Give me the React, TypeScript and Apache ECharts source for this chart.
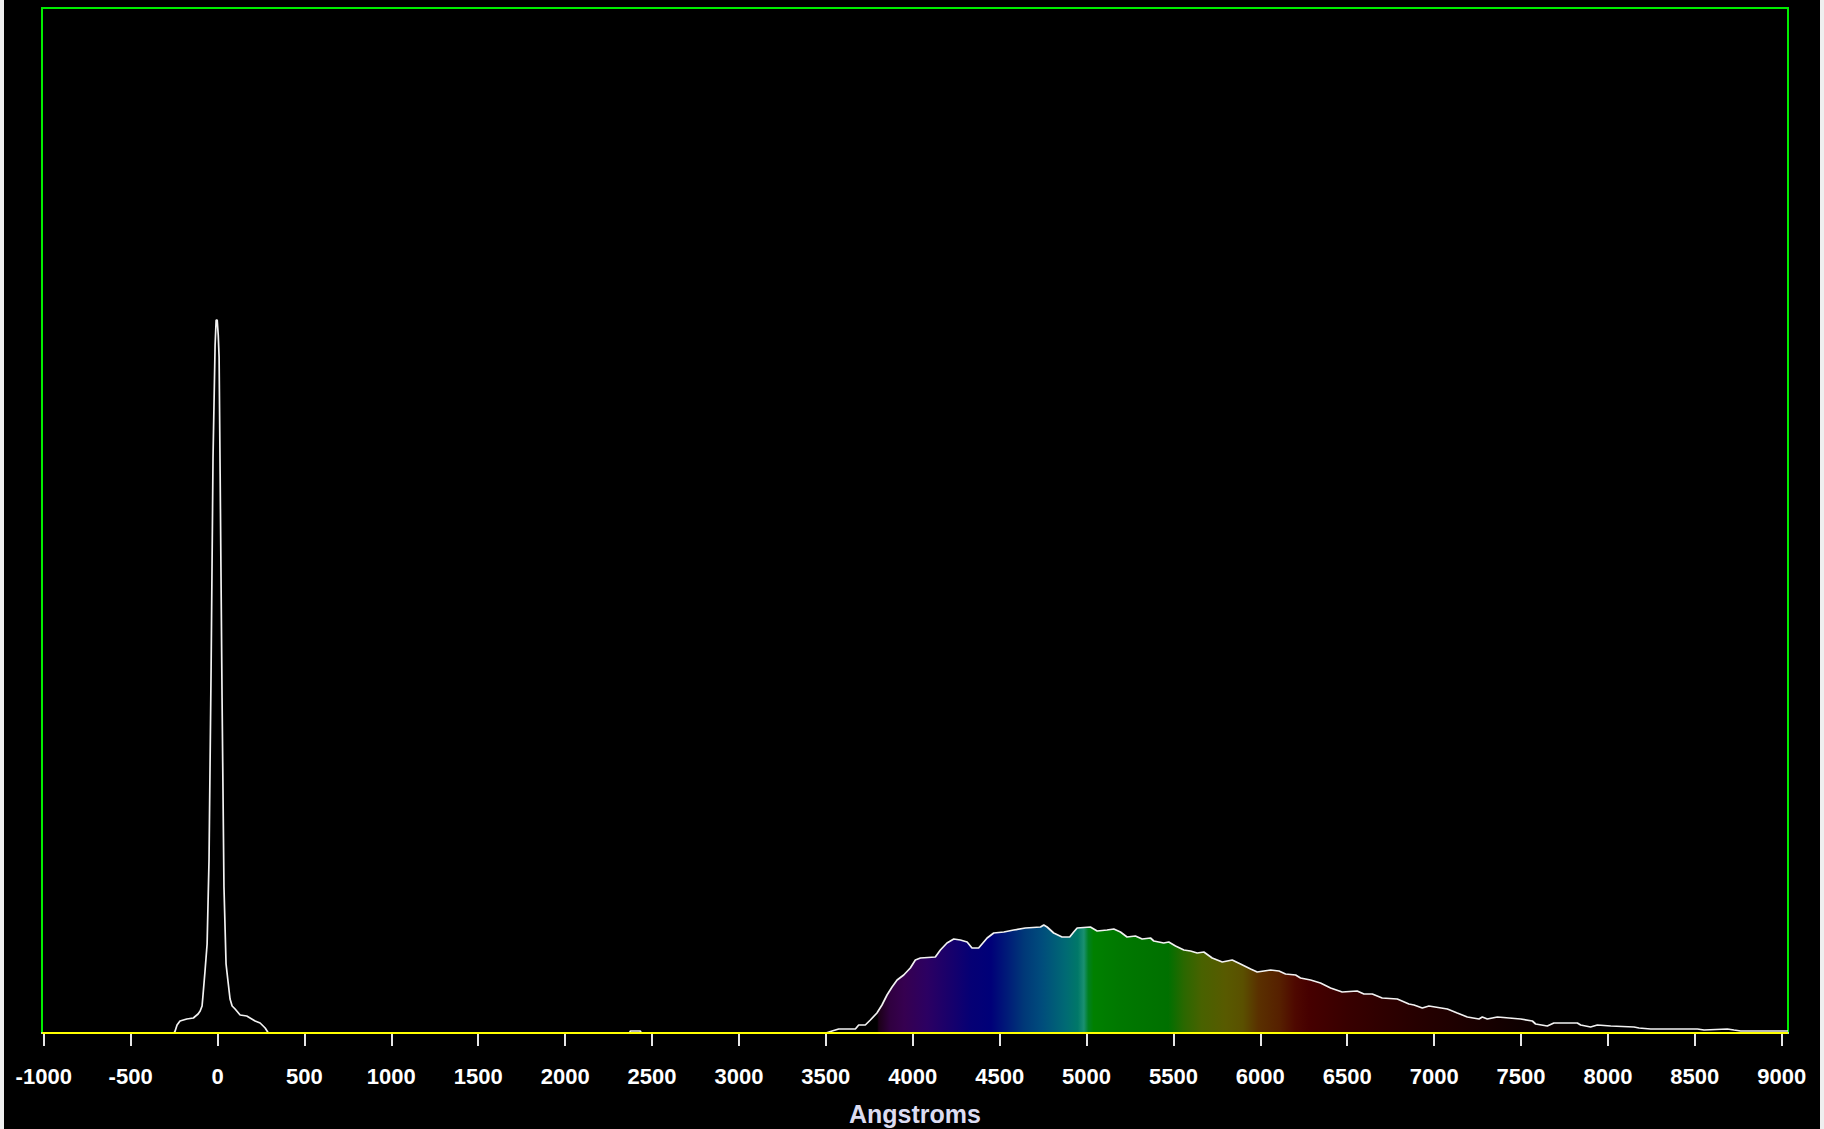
import React, { useEffect, useRef } from "react";
import * as echarts from "echarts";

// ---- data (wavelength in Angstroms, intensity in arbitrary counts) ----
const tickValues = [-1000, -500, 0, 500, 1000, 1500, 2000, 2500, 3000, 3500, 4000, 4500, 5000, 5500, 6000, 6500, 7000, 7500, 8000, 8500, 9000];

const zeroOrderPeak: [number, number][] = [
  [-250, 0], [-244, 2], [-233, 8], [-216, 12], [-177, 14], [-139, 15], [-112, 19], [-100, 22],
  [-89, 27], [-83, 39], [-72, 62], [-60, 89], [-49, 173], [-37, 365], [-26, 575], [-14, 688],
  [-8, 713], [-2, 713], [4, 698], [9, 676], [15, 559], [26, 335], [37, 146], [49, 69],
  [60, 52], [72, 34], [84, 27], [101, 24], [130, 18], [168, 17], [216, 12], [245, 10],
  [274, 5], [285, 2], [292, 0],
];

const smallBump: [number, number][] = [[2370, 0], [2376, 2], [2432, 2], [2438, 0]];

const firstOrder: [number, number][] = [
  [3500, 0], [3536, 2], [3574, 4], [3670, 4], [3689, 8], [3727, 8], [3756, 13], [3794, 20],
  [3823, 28], [3852, 38], [3881, 46], [3910, 53], [3948, 58], [3986, 65], [4015, 73], [4044, 75],
  [4130, 76], [4159, 83], [4197, 90], [4236, 94], [4274, 93], [4313, 91], [4341, 85], [4379, 85],
  [4428, 95], [4466, 100], [4524, 101], [4581, 103], [4648, 105], [4735, 106], [4754, 108], [4773, 106],
  [4811, 100], [4859, 96], [4903, 96], [4926, 101], [4946, 105], [5022, 106], [5061, 102], [5118, 103],
  [5157, 104], [5195, 101], [5233, 96], [5281, 97], [5320, 94], [5368, 95], [5387, 92], [5444, 90],
  [5473, 91], [5512, 87], [5560, 83], [5598, 82], [5637, 80], [5675, 81], [5723, 75], [5781, 71],
  [5838, 73], [5886, 69], [5944, 64], [5982, 61], [6059, 63], [6107, 62], [6145, 59], [6203, 58],
  [6231, 55], [6289, 53], [6346, 50], [6404, 45], [6471, 41], [6557, 42], [6596, 39], [6644, 39],
  [6701, 35], [6788, 34], [6855, 29], [6884, 28], [6932, 25], [6970, 27], [7076, 24], [7133, 20],
  [7191, 16], [7258, 14], [7277, 16], [7306, 14], [7364, 16], [7498, 14], [7565, 12], [7584, 9],
  [7651, 7], [7689, 10], [7824, 10], [7843, 8], [7900, 6], [7939, 8], [8016, 7], [8150, 6],
  [8179, 5], [8246, 4], [8515, 4], [8553, 3], [8687, 4], [8725, 3], [8764, 2], [9036, 2],
];

const X_MIN = -1010;
const X_MAX = 9036;
const Y_MAX = 1025;

// ---- styles ----
const spectrumColors: [number, string][] = [
  [3500, "#000000"], [3795, "#000000"], [3805, "#1c0018"], [3870, "#300040"], [3950, "#360050"],
  [4080, "#2c0062"], [4200, "#1a006a"], [4330, "#060074"], [4450, "#000078"], [4540, "#001a78"],
  [4640, "#003878"], [4740, "#004c7c"], [4880, "#006a74"], [4950, "#007868"], [4985, "#1a9070"],
  [5010, "#008020"], [5040, "#008000"], [5200, "#007800"], [5470, "#007000"], [5560, "#2a6800"],
  [5660, "#486200"], [5800, "#585a00"], [5900, "#5a5000"], [5990, "#5a3000"], [6110, "#562000"],
  [6200, "#4e0800"], [6280, "#460000"], [6500, "#380000"], [6850, "#280000"], [7230, "#1a0000"],
  [7610, "#0a0000"], [8000, "#000000"], [9036, "#000000"],
];

export default function App() {
  const ref = useRef<HTMLDivElement>(null);
  useEffect(() => {
    if (!ref.current) return;
    const chart = echarts.init(ref.current, undefined, { renderer: "svg" });
    const cMin = firstOrder[0][0];
    const cMax = firstOrder[firstOrder.length - 1][0];
    const stops = spectrumColors.map(([w, c]) => ({
      offset: Math.min(1, Math.max(0, (w - cMin) / (cMax - cMin))),
      color: c,
    }));
    const lineStyle = { color: "#f2f2f2", width: 1.7 };
    chart.setOption({
      animation: false,
      backgroundColor: "#000000",
      grid: {
        left: 38,
        right: 32,
        top: 8,
        bottom: 96,
        show: true,
        borderColor: "#00ee00",
        borderWidth: 2,
        backgroundColor: "#000000",
        containLabel: false,
        outerBoundsMode: "none",
      },
      xAxis: {
        type: "value",
        min: X_MIN,
        max: X_MAX,
        offset: 12,
        splitLine: { show: false },
        axisLine: { show: true, lineStyle: { color: "#e6e6e6", width: 2 } },
        axisTick: { show: true, length: 13, lineStyle: { color: "#e6e6e6", width: 2 }, customValues: tickValues },
        axisLabel: {
          customValues: tickValues,
          formatter: (v: number) => String(v),
          color: "#ffffff",
          fontFamily: "Liberation Sans",
          fontWeight: "bold",
          fontSize: 22,
          margin: 20,
        },
        name: "Angstroms",
        nameLocation: "middle",
        nameGap: 56,
        nameTextStyle: { color: "#dcdcf2", fontFamily: "Liberation Sans", fontWeight: "bold", fontSize: 25 },
      },
      yAxis: { type: "value", min: 0, max: Y_MAX, show: false },
      series: [
        {
          type: "line",
          data: firstOrder,
          showSymbol: false,
          symbol: "none",
          lineStyle,
          areaStyle: {
            opacity: 1,
            color: new echarts.graphic.LinearGradient(0, 0, 1, 0, stops),
          },
          z: 3,
        },
        { type: "line", data: zeroOrderPeak, showSymbol: false, symbol: "none", lineStyle, z: 3 },
        { type: "line", data: smallBump, showSymbol: false, symbol: "none", lineStyle, z: 3 },
        {
          type: "line",
          data: [[X_MIN, 0], [X_MAX, 0]],
          showSymbol: false,
          symbol: "none",
          clip: false,
          lineStyle: { color: "#ffff00", width: 2 },
          z: 5,
        },
      ],
    });
    return () => chart.dispose();
  }, []);
  return (
    <div style={{ position: "fixed", left: 0, top: 0, width: 1824, height: 1129, background: "#efefef" }}>
      <div ref={ref} style={{ position: "absolute", left: 4, top: 0, width: 1816, height: 1129 }} />
    </div>
  );
}
